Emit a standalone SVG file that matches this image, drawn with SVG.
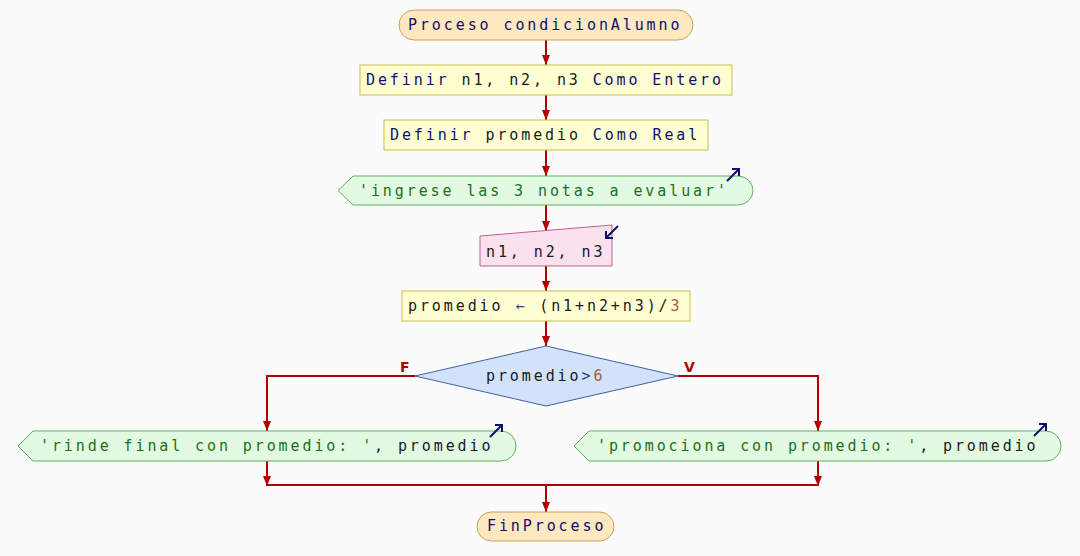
<svg xmlns="http://www.w3.org/2000/svg" width="1080" height="556" viewBox="0 0 1080 556">
<defs>
<style>
.t{font-family:"DejaVu Sans Mono","Liberation Mono",monospace;font-size:15px;letter-spacing:2.9px;fill:#1a1a1a}
.kw{fill:#10106a}
.str{fill:#207020}
.num{fill:#a0603a}
.op{fill:#3a3a8a}
.proc{fill:#ffffd2;stroke:#c8c050;stroke-width:1}
.term{fill:#fde8c0;stroke:#c8a060;stroke-width:1}
.out{fill:#e2fae2;stroke:#60b060;stroke-width:1}
.inp{fill:#fbe0ee;stroke:#c06090;stroke-width:1}
.dec{fill:#d2e2fa;stroke:#4060a8;stroke-width:1}
.c{fill:none;stroke:#b00000;stroke-width:2}
.ic{fill:none;stroke:#10106a;stroke-width:2}
.lab{font-family:"DejaVu Sans","Liberation Sans",sans-serif;font-size:14px;font-weight:bold;fill:#b00000}
</style>
<marker id="ah" markerUnits="userSpaceOnUse" markerWidth="10" markerHeight="8" refX="10" refY="4" orient="auto">
<path d="M0,0 L10,4 L0,8 z" fill="#b00000"/>
</marker>
</defs>
<rect width="1080" height="556" fill="#fbfbfb"/>
<g id="connectors">
<path class="c" d="M546,40 V65" marker-end="url(#ah)"/>
<path class="c" d="M546,95 V120" marker-end="url(#ah)"/>
<path class="c" d="M546,150 V176" marker-end="url(#ah)"/>
<path class="c" d="M546,205 V231" marker-end="url(#ah)"/>
<path class="c" d="M546,266 V291" marker-end="url(#ah)"/>
<path class="c" d="M546,321 V346" marker-end="url(#ah)"/>
<path class="c" d="M415,376 H267 V431" marker-end="url(#ah)"/>
<path class="c" d="M678,376 H818 V431" marker-end="url(#ah)"/>
<path class="c" d="M267,461 V486" marker-end="url(#ah)"/>
<path class="c" d="M818,461 V486" marker-end="url(#ah)"/>
<path class="c" d="M267,485 H818"/>
<path class="c" d="M546,485 V512" marker-end="url(#ah)"/>
<text class="lab" x="400" y="372">F</text>
<text class="lab" x="684" y="372">V</text>
</g>
<g id="start">
<rect class="term" x="399" y="10" width="294" height="30" rx="15"/>
<text class="t kw" x="408" y="30">Proceso condicionAlumno</text>
</g>
<g id="def1">
<rect class="proc" x="360" y="65" width="372" height="30"/>
<text class="t" x="366" y="85"><tspan class="kw">Definir</tspan> n1, n2, n3 <tspan class="kw">Como Entero</tspan></text>
</g>
<g id="def2">
<rect class="proc" x="384" y="120" width="324" height="30"/>
<text class="t" x="390" y="140"><tspan class="kw">Definir</tspan> promedio <tspan class="kw">Como Real</tspan></text>
</g>
<g id="out1">
<path class="out" d="M338,190.5 L353,176 H738 A15,14.5 0 0 1 738,205 H353 Z"/>
<text class="t str" x="359" y="196">'ingrese las 3 notas a evaluar'</text>
<path class="ic" d="M727,181 L739,169 M732,169 H739 V176"/>
</g>
<g id="input">
<polygon class="inp" points="480,236 612,225 612,266 480,266"/>
<text class="t" x="486" y="257">n1, n2, n3</text>
<path class="ic" d="M618,226 L606,238 M606,231 V238 H613"/>
</g>
<g id="assign">
<rect class="proc" x="402" y="291" width="288" height="30"/>
<text class="t" x="408" y="311">promedio <tspan class="op">←</tspan> (n1+n2+n3)/<tspan class="num">3</tspan></text>
</g>
<g id="decision">
<polygon class="dec" points="415,376 546,346 678,376 546,406"/>
<text class="t" x="486" y="381">promedio<tspan class="op">&gt;</tspan><tspan class="num">6</tspan></text>
</g>
<g id="outF">
<path class="out" d="M18,446 L33,431 H501 A15,15 0 0 1 501,461 H33 Z"/>
<text class="t" x="40" y="451"><tspan class="str">'rinde final con promedio: '</tspan>, promedio</text>
<path class="ic" d="M490,437 L502,425 M495,425 H502 V432"/>
</g>
<g id="outV">
<path class="out" d="M574,446 L589,431 H1046 A15,15 0 0 1 1046,461 H589 Z"/>
<text class="t" x="597" y="451"><tspan class="str">'promociona con promedio: '</tspan>, promedio</text>
<path class="ic" d="M1034,436 L1046,424 M1039,424 H1046 V431"/>
</g>
<g id="end">
<rect class="term" x="477" y="512" width="137" height="29" rx="14.5"/>
<text class="t kw" x="487" y="531">FinProceso</text>
</g>
</svg>
